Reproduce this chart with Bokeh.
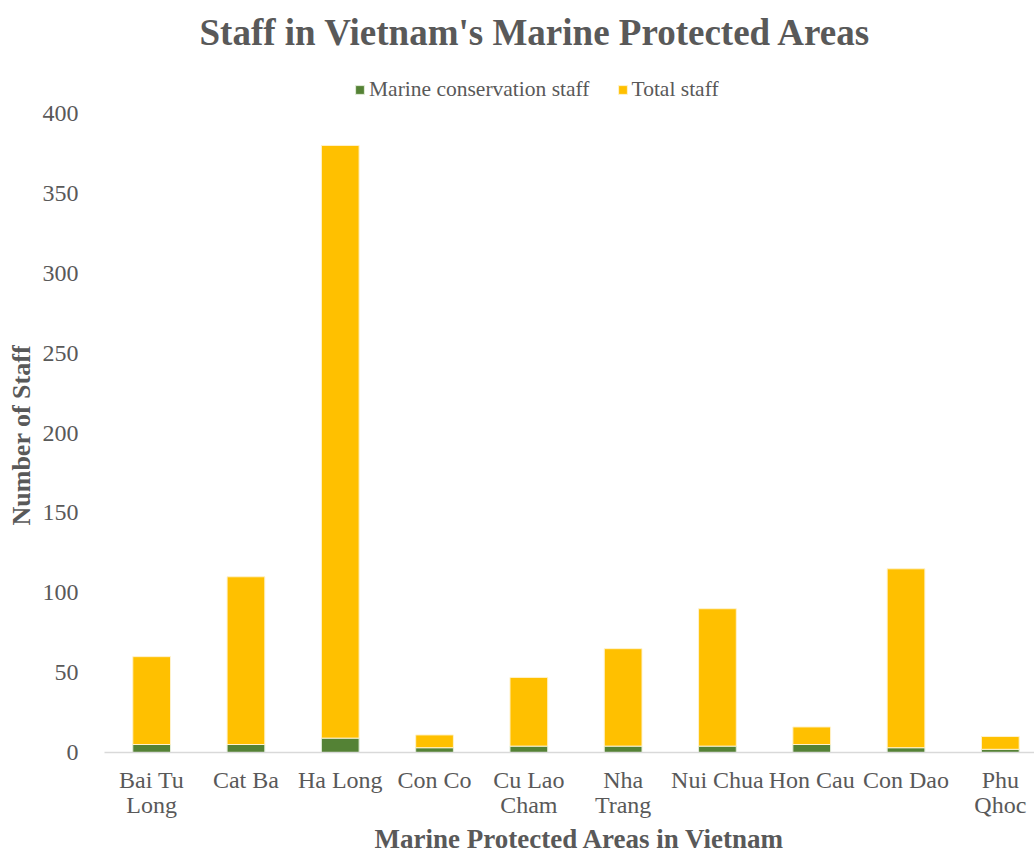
from bokeh.plotting import figure
from bokeh.models import (ColumnDataSource, Legend, LegendItem, FixedTicker, Range1d,
                          LinearAxis, Title)
from bokeh.embed import file_html
from bokeh.resources import INLINE

areas = ["Bai Tu Long", "Cat Ba", "Ha Long", "Con Co", "Cu Lao Cham",
         "Nha Trang", "Nui Chua", "Hon Cau", "Con Dao", "Phu Qhoc"]
label_line1 = ["Bai Tu", "Cat Ba", "Ha Long", "Con Co", "Cu Lao",
               "Nha", "Nui Chua", "Hon Cau", "Con Dao", "Phu"]
label_line2 = ["Long", "", "", "", "Cham", "Trang", "", "", "", "Qhoc"]
marine_staff = [5, 5, 9, 3, 4, 4, 4, 5, 3, 2]
total_staff = [55, 105, 371, 8, 43, 61, 86, 11, 112, 8]
y_ticks = [0, 50, 100, 150, 200, 250, 300, 350, 400]

FONT = "Liberation Serif"
GRAY = "#595959"
GREEN = "#548235"
YELLOW = "#FFC000"

xpos = list(range(len(areas)))
src = ColumnDataSource(dict(x=xpos, area=areas, marine=marine_staff, total=total_staff))

W, H = 1034, 854
FL, FB = 102, 752        # frame left / bottom (px)
Y400 = 113               # pixel row of the 400 tick
FT = 56                  # frame top (px)
ppu = (FB - Y400) / 400.0
y_end = 400 + (Y400 - FT) / ppu

p = figure(width=W, height=H, output_backend="svg", toolbar_location=None,
           x_range=Range1d(-0.5, -0.5 + (W - FL) / 94.5), y_range=Range1d(0, y_end),
           min_border_left=FL, min_border_right=0, min_border_top=FT, min_border_bottom=H - FB)

r = p.vbar_stack(["marine", "total"], x="x", width=0.4, source=src,
                 color=[GREEN, YELLOW], line_color=["#e2ecd9", "#fff2cc"], line_width=1)

p.title.text = "Staff in Vietnam's Marine Protected Areas"
p.title.align = "left"
p.title.offset = 95
p.title.standoff = 8
p.title.text_font = FONT
p.title.text_font_size = "37px"
p.title.text_font_style = "bold"
p.title.text_color = GRAY

legend = Legend(items=[LegendItem(label="Marine conservation staff", renderers=[r[0]]),
                       LegendItem(label="Total staff", renderers=[r[1]])],
                orientation="horizontal", location=(250, FB - 102),
                label_text_font=FONT, label_text_font_size="21.5px", label_text_color=GRAY,
                label_standoff=4, label_height=22,
                glyph_width=11, glyph_height=11, spacing=27, padding=0, margin=0,
                border_line_color=None, background_fill_alpha=0)
p.add_layout(legend, "center")

p.xgrid.grid_line_color = None
p.ygrid.grid_line_color = None
p.outline_line_color = None

p.xaxis.ticker = FixedTicker(ticks=xpos)
p.xaxis.major_label_overrides = {i: t for i, t in zip(xpos, label_line1)}
p.xaxis.axis_line_color = "#d9d9d9"
p.xaxis.axis_line_width = 1.5
p.xaxis.major_tick_line_color = None
p.xaxis.minor_tick_line_color = None
p.xaxis.major_label_text_font = FONT
p.xaxis.major_label_text_font_size = "24px"
p.xaxis.major_label_text_color = GRAY
p.xaxis.major_label_standoff = 8

ticks2 = [i for i, t in zip(xpos, label_line2) if t]
ax2 = LinearAxis(ticker=FixedTicker(ticks=ticks2),
                 major_label_overrides={i: label_line2[i] for i in ticks2},
                 axis_line_color=None, major_tick_line_color=None, minor_tick_line_color=None,
                 major_label_text_font=FONT, major_label_text_font_size="24px",
                 major_label_text_color=GRAY, major_label_standoff=-10)
p.add_layout(ax2, "below")

p.add_layout(Title(text="Marine Protected Areas in Vietnam", align="left", offset=270,
                   standoff=2, text_font=FONT, text_font_size="27px",
                   text_font_style="bold", text_color=GRAY), "below")

p.yaxis.ticker = FixedTicker(ticks=y_ticks)
p.yaxis.axis_line_color = None
p.yaxis.major_tick_line_color = None
p.yaxis.minor_tick_line_color = None
p.yaxis.major_label_text_font = FONT
p.yaxis.major_label_text_font_size = "24px"
p.yaxis.major_label_text_color = GRAY
p.yaxis.major_label_standoff = 20

p.add_layout(Title(text="Number of Staff", align="left", offset=FB - 525,
                   standoff=8, text_font=FONT, text_font_size="26px",
                   text_font_style="bold", text_color=GRAY), "left")

open("out.html", "w").write(file_html(p, INLINE))
